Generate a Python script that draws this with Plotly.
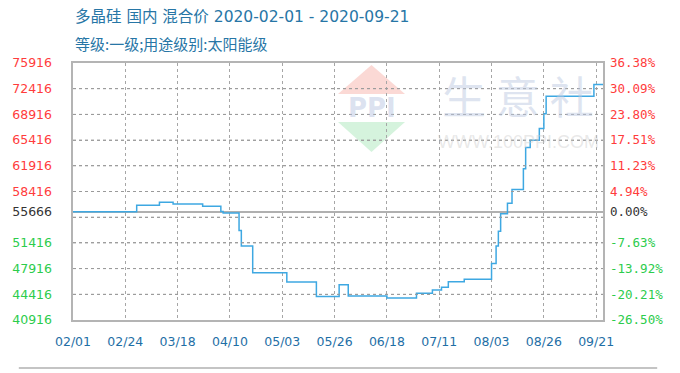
import plotly.graph_objects as go

# ---------------- data ----------------
dates = ["2020-02-01", "2020-02-29", "2020-03-10", "2020-03-16", "2020-03-29",
         "2020-04-06", "2020-04-07", "2020-04-14", "2020-04-15", "2020-04-20",
         "2020-05-05", "2020-05-18", "2020-05-28", "2020-06-01", "2020-06-18",
         "2020-07-01", "2020-07-08", "2020-07-12", "2020-07-15", "2020-07-22",
         "2020-08-03", "2020-08-05", "2020-08-06", "2020-08-07", "2020-08-10",
         "2020-08-12", "2020-08-17", "2020-08-18", "2020-08-20", "2020-08-24",
         "2020-08-26", "2020-08-27", "2020-09-17", "2020-09-21"]
prices = [55666, 56550, 56950, 56700, 56400,
          55700, 55500, 53100, 51000, 47350,
          46100, 44100, 45700, 44200, 43900,
          44550, 45000, 45370, 46130, 46450,
          48600, 51000, 53000, 55400, 56800,
          58700, 61500, 64400, 65400, 67000,
          69000, 71400, 73000, 73000]

base_price = 55666
grid_prices = [40916, 44416, 47916, 51416, 54916, 58416, 61916, 65416, 68916, 72416, 75916]
left_tick_vals = [40916, 44416, 47916, 51416, 55666, 58416, 61916, 65416, 68916, 72416, 75916]
right_tick_labels = ["-26.50%", "-20.21%", "-13.92%", "-7.63%", "0.00%", "4.94%",
                     "11.23%", "17.51%", "23.80%", "30.09%", "36.38%"]
x_tick_dates = ["2020-02-01", "2020-02-24", "2020-03-18", "2020-04-10", "2020-05-03",
                "2020-05-26", "2020-06-18", "2020-07-11", "2020-08-03", "2020-08-26",
                "2020-09-18"]
x_tick_labels = ["02/01", "02/24", "03/18", "04/10", "05/03", "05/26", "06/18",
                 "07/11", "08/03", "08/26", "09/21"]
x_range = ["2020-02-01", "2020-09-21"]

title1 = "多晶硅 国内 混合价 2020-02-01 - 2020-09-21"
title2 = "等级:一级;用途级别:太阳能级"

# ---------------- styling helpers ----------------
RED = "#ff3c3c"
GREEN = "#2ccc4c"
BLACK = "#333333"


def col(v):
    if v > base_price:
        return RED
    if v < base_price:
        return GREEN
    return BLACK


left_text = [f'<span style="color:{col(v)}">{v}</span>' for v in left_tick_vals]
right_vals = [(v / base_price - 1) * 100 for v in left_tick_vals]
right_text = [f'<span style="color:{col(v)}">{t}</span>'
              for v, t in zip(left_tick_vals, right_tick_labels)]

y_lo, y_hi = min(grid_prices), max(grid_prices)

fig = go.Figure()
grid_col = "#a6a6a6"
fig.add_trace(go.Scatter(x=dates, y=prices, mode="lines", line_shape="hv",
                         line=dict(color="#3ea8e2", width=1.5),
                         showlegend=False, hoverinfo="x+y"))
# invisible traces to activate the overlay axes
fig.add_trace(go.Scatter(x=[dates[0]], y=[0], yaxis="y2", mode="markers",
                         marker=dict(opacity=0), showlegend=False, hoverinfo="skip"))
fig.add_trace(go.Scatter(x=[dates[0]], y=[prices[0]], yaxis="y3", mode="markers",
                         marker=dict(opacity=0), showlegend=False, hoverinfo="skip"))

fig.update_layout(
    width=680, height=373,
    margin=dict(l=65, r=77, t=63, b=53),
    paper_bgcolor="white", plot_bgcolor="white",
    xaxis=dict(type="date", range=x_range, tickvals=x_tick_dates, ticktext=x_tick_labels,
               showgrid=True, gridcolor=grid_col, griddash="dot", gridwidth=1,
               showline=True, mirror=True, linecolor="#b4b4b4", linewidth=1.5,
               ticks="", ticklabelstandoff=9,
               tickfont=dict(family="DejaVu Sans", size=12.5, color="#1f6fa6"),
               zeroline=False, fixedrange=True),
    yaxis=dict(range=[y_lo, y_hi], tickvals=grid_prices, showticklabels=False,
               showgrid=True, gridcolor=grid_col, gridwidth=1, griddash="dot",
               showline=True, mirror=True, linecolor="#b4b4b4", linewidth=1.5,
               ticks="", zeroline=False),
    yaxis3=dict(overlaying="y", side="left", range=[y_lo, y_hi],
                tickvals=left_tick_vals, ticktext=left_text,
                showgrid=False, showline=False, ticks="", ticklabelstandoff=20,
                tickfont=dict(family="DejaVu Sans", size=12.5, color=BLACK),
                zeroline=False),
    yaxis2=dict(overlaying="y", side="right",
                range=[(y_lo / base_price - 1) * 100, (y_hi / base_price - 1) * 100],
                tickvals=right_vals, ticktext=right_text,
                showgrid=False, zeroline=True, zerolinecolor="#b0b0b0", zerolinewidth=1.5,
                showline=False, ticks="", ticklabelstandoff=6,
                tickfont=dict(family="DejaVu Sans Mono", size=12.5, color=BLACK)),
)


# pixel -> paper helpers for decoration
def px(x):
    return (x - 65) / 538


def py(y):
    return (320 - y) / 257


shapes = [
    dict(type="path", xref="paper", yref="paper", layer="below",
         path=f"M {px(368)} {py(65)} L {px(334)} {py(94)} L {px(402)} {py(94)} Z",
         fillcolor="rgba(245,160,150,0.40)", line=dict(width=0)),
    dict(type="path", xref="paper", yref="paper", layer="below",
         path=f"M {px(334)} {py(122)} L {px(402)} {py(122)} L {px(368)} {py(152)} Z",
         fillcolor="rgba(150,225,170,0.40)", line=dict(width=0)),
    dict(type="line", xref="paper", yref="paper", x0=px(10), x1=px(658),
         y0=py(368), y1=py(368), line=dict(color="#c4c4c4", width=2)),
]
# horizontal dotted grid lines, drawn on top so nothing can hide them
for g in grid_prices[1:-1]:
    shapes.append(dict(type="line", xref="paper", yref="y", x0=0, x1=1, y0=g, y1=g,
                       layer="above", line=dict(color="#9a9a9a", width=1, dash="dot")))
fig.update_layout(shapes=shapes)

annotations = [
    dict(text=title1, xref="paper", yref="paper", x=0, y=py(17), xanchor="left",
         yanchor="middle", showarrow=False,
         font=dict(family="DejaVu Sans, Noto Sans CJK SC", size=15.5, color="#2776a6")),
    dict(text=title2, xref="paper", yref="paper", x=0, y=py(43), xanchor="left",
         yanchor="middle", showarrow=False,
         font=dict(family="Noto Sans CJK SC", size=15, color="#2776a6")),
    dict(text="<b>PPI</b>", xref="paper", yref="paper", x=px(369), y=py(108), showarrow=False,
         xanchor="center", yanchor="middle",
         font=dict(family="DejaVu Sans", size=26, color="rgba(185,198,225,0.50)")),
    dict(text="生 意 社", xref="paper", yref="paper", x=px(517), y=py(95), showarrow=False,
         xanchor="center", yanchor="middle",
         font=dict(family="Noto Sans CJK SC", size=44, color="rgba(190,202,225,0.50)")),
    dict(text="WWW.100PPI.COM", xref="paper", yref="paper", x=px(517), y=py(142),
         showarrow=False, xanchor="center", yanchor="middle",
         font=dict(family="Liberation Sans", size=18, color="rgba(205,205,205,0.45)")),
]
fig.update_layout(annotations=annotations)

fig.write_html("out.html")
